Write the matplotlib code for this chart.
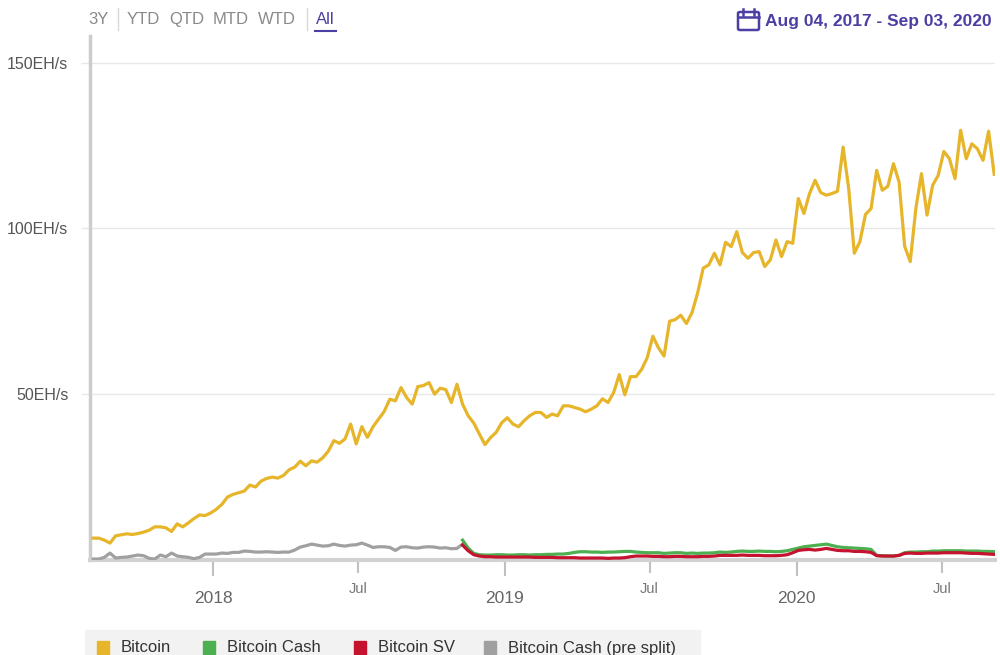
import matplotlib
matplotlib.use("Agg")
import pandas as pd
import matplotlib.pyplot as plt
import matplotlib.dates as mdates
from matplotlib.patches import Rectangle, FancyBboxPatch
from matplotlib.lines import Line2D

plt.rcParams['font.family'] = ['Liberation Sans', 'DejaVu Sans']

# Weekly hash rate readings (EH/s), starting Aug 04, 2017
start_date = "2017-08-04"

bitcoin = [
    6.6, 6.6, 6.0, 5.1, 7.3, 7.6, 7.9, 7.7, 8.0, 8.4,
    9.0, 10.0, 10.0, 9.7, 8.6, 10.9, 10.0, 11.2, 12.5, 13.6,
    13.4, 14.2, 15.3, 16.8, 19.0, 19.8, 20.3, 20.8, 22.6, 22.0,
    23.8, 24.6, 25.0, 24.7, 25.5, 27.2, 28.0, 29.8, 28.4, 29.9,
    29.5, 30.8, 32.8, 36.0, 35.2, 36.5, 41.0, 35.0, 40.2, 37.0,
    40.2, 42.5, 44.8, 48.5, 48.0, 52.0, 49.0, 47.0, 52.3, 52.6,
    53.5, 50.0, 51.8, 51.4, 47.5, 53.0, 47.0, 43.5, 41.3, 38.0,
    34.8, 36.9, 38.5, 41.4, 42.9, 41.0, 40.2, 42.0, 43.5, 44.5,
    44.5, 43.0, 44.0, 43.5, 46.5, 46.5, 46.0, 45.5, 44.7, 45.5,
    46.5, 48.6, 47.5, 50.5, 55.9, 49.8, 55.3, 55.3, 57.5, 61.0,
    67.5, 64.0, 61.5, 72.0, 72.5, 73.8, 71.3, 74.6, 80.5, 88.0,
    89.0, 92.5, 89.0, 95.8, 94.5, 99.0, 92.7, 91.0, 92.7, 93.0,
    88.5, 90.5, 96.5, 91.5, 96.0, 95.5, 109.0, 104.5, 110.5, 114.5,
    110.8, 110.0, 110.5, 111.2, 124.5, 112.0, 92.5, 96.0, 104.2, 106.0,
    117.5, 111.5, 112.7, 119.5, 114.0, 94.6, 90.0, 106.0, 116.5, 104.0,
    113.0, 116.0, 123.2, 121.0, 115.0, 129.6, 121.0, 125.5, 124.0, 120.5,
    129.3, 116.3,
]

# Bitcoin Cash before the Nov 2018 split (weeks 0-66)
bch_pre_split = [
    0.3, 0.3, 0.8, 2.1, 0.6, 0.8, 0.9, 1.2, 1.5, 1.3,
    0.5, 0.3, 1.5, 1.0, 2.1, 1.2, 1.0, 0.8, 0.4, 0.8,
    1.8, 1.8, 1.8, 2.1, 2.0, 2.3, 2.3, 2.7, 2.6, 2.4,
    2.4, 2.5, 2.4, 2.3, 2.4, 2.4, 3.0, 3.9, 4.3, 4.8,
    4.5, 4.2, 4.3, 4.8, 4.4, 4.2, 4.5, 4.6, 5.1, 4.5,
    3.8, 4.0, 4.0, 3.8, 2.9, 3.9, 4.0, 3.7, 3.6, 3.9,
    4.0, 3.9, 3.6, 3.7, 3.4, 3.5, 4.8,
]

# After the split (weeks 66-161)
bitcoin_cash = [
    6.0, 3.6, 2.0, 1.6, 1.5, 1.5, 1.6, 1.6, 1.5, 1.5,
    1.6, 1.6, 1.5, 1.6, 1.6, 1.7, 1.7, 1.8, 1.8, 2.0,
    2.3, 2.5, 2.5, 2.4, 2.4, 2.3, 2.4, 2.4, 2.5, 2.6,
    2.6, 2.4, 2.3, 2.2, 2.2, 2.2, 2.0, 2.1, 2.2, 2.2,
    2.0, 2.1, 2.0, 2.1, 2.1, 2.2, 2.4, 2.3, 2.4, 2.6,
    2.7, 2.6, 2.6, 2.7, 2.6, 2.6, 2.5, 2.6, 2.8, 3.2,
    3.6, 4.0, 4.2, 4.4, 4.6, 4.8, 4.4, 4.0, 3.8, 3.7,
    3.6, 3.5, 3.4, 3.2, 1.4, 1.3, 1.2, 1.2, 1.4, 2.2,
    2.4, 2.4, 2.5, 2.5, 2.7, 2.7, 2.8, 2.8, 2.8, 2.8,
    2.7, 2.7, 2.7, 2.6, 2.6, 2.5,
]

bitcoin_sv = [
    4.5, 2.8, 1.6, 1.2, 1.0, 1.0, 0.9, 0.9, 0.9, 0.9,
    0.9, 0.9, 0.9, 0.8, 0.8, 0.8, 0.8, 0.7, 0.7, 0.7,
    0.7, 0.6, 0.6, 0.6, 0.6, 0.6, 0.5, 0.6, 0.6, 0.7,
    1.0, 1.2, 1.2, 1.2, 1.1, 1.1, 1.0, 1.0, 1.1, 1.1,
    1.0, 1.0, 1.0, 1.1, 1.1, 1.2, 1.4, 1.4, 1.4, 1.4,
    1.5, 1.4, 1.4, 1.4, 1.3, 1.3, 1.3, 1.4, 1.6, 2.2,
    2.9, 3.1, 3.2, 3.0, 3.2, 3.5, 3.2, 2.9, 2.8, 2.8,
    2.6, 2.6, 2.5, 2.3, 1.3, 1.2, 1.2, 1.2, 1.4, 2.0,
    2.1, 2.0, 2.0, 2.1, 2.1, 2.1, 2.2, 2.2, 2.2, 2.2,
    2.1, 2.0, 2.0, 1.9, 1.8, 1.7,
]

y_ticks = [50, 100, 150]
ranges = ["3Y", "YTD", "QTD", "MTD", "WTD", "All"]
date_label = "Aug 04, 2017 - Sep 03, 2020"

c_btc = "#e6b52a"
c_bch = "#4caf50"
c_bsv = "#c4122f"
c_pre = "#a0a0a0"
purple = "#4b3fa3"

weeks = pd.date_range(start_date, periods=len(bitcoin), freq="7D")
split = len(bch_pre_split) - 1

fig = plt.figure(figsize=(10, 6.55), dpi=100)
ax = fig.add_axes([0.09, 0.145, 0.905, 0.8])

ax.plot(weeks, bitcoin, color=c_btc, lw=2.3, zorder=4)
ax.plot(weeks[:split + 1], bch_pre_split, color=c_pre, lw=2.3, zorder=3)
ax.plot(weeks[split:], bitcoin_cash, color=c_bch, lw=2.3, zorder=3)
ax.plot(weeks[split:], bitcoin_sv, color=c_bsv, lw=2.3, zorder=3)

ax.set_ylim(0, 158)
ax.set_xlim(pd.Timestamp("2017-07-31"), pd.Timestamp("2020-09-05"))
ax.set_yticks(y_ticks)
ax.set_yticklabels([f"{v}EH/s" for v in y_ticks])
ax.grid(axis="y", color="#e8e8e8", lw=1)
ax.set_axisbelow(True)

for s in ["top", "right"]:
    ax.spines[s].set_visible(False)
ax.spines["left"].set_color("#cccccc")
ax.spines["left"].set_linewidth(2.5)
ax.spines["bottom"].set_color("#d2d2d2")
ax.spines["bottom"].set_linewidth(3)

ax.tick_params(axis="y", length=6.5, width=1, color="#e8e8e8", pad=9,
               labelsize=11.5, labelcolor="#555555")

ax.xaxis.set_major_locator(mdates.YearLocator())
ax.xaxis.set_major_formatter(mdates.DateFormatter("%Y"))
ax.xaxis.set_minor_locator(mdates.MonthLocator(bymonth=7))
ax.xaxis.set_minor_formatter(mdates.DateFormatter("%b"))
ax.tick_params(axis="x", which="major", length=11.5, width=1.5, color="#c0c0c0",
               pad=11, labelsize=12.5, labelcolor="#666666")
ax.tick_params(axis="x", which="minor", length=9, width=1.5, color="#c0c0c0",
               pad=6.5, labelsize=10.5, labelcolor="#777777")

# range selector across the top
xs = [88, 127, 169, 213, 258, 316]
for lbl, x in zip(ranges, xs):
    fig.text(x / 1000, 1 - 24 / 655, lbl, fontsize=12,
             color=purple if lbl == "All" else "#8a8a8a", va="baseline", ha="left")
for x in [118, 307]:
    fig.add_artist(Line2D([x / 1000, x / 1000], [1 - 8 / 655, 1 - 30 / 655],
                          color="#d8d8d8", lw=1))
fig.add_artist(Line2D([315 / 1000, 336 / 1000], [1 - 31 / 655, 1 - 31 / 655],
                      color=purple, lw=1.5))

# date range with calendar icon
fig.text(992 / 1000, 1 - 26 / 655, date_label, fontsize=12.5, fontweight="bold",
         color=purple, ha="right", va="baseline")
fig.add_artist(FancyBboxPatch((738 / 1000, 1 - 30 / 655), 21 / 1000, 18 / 655,
                              boxstyle="round,pad=0,rounding_size=0.002",
                              fill=False, ec=purple, lw=1.8, transform=fig.transFigure))
fig.add_artist(Line2D([738 / 1000, 759 / 1000], [1 - 17 / 655, 1 - 17 / 655],
                      color=purple, lw=1.8))
for x in [743, 754]:
    fig.add_artist(Line2D([x / 1000, x / 1000], [1 - 9 / 655, 1 - 15 / 655],
                          color=purple, lw=1.8))

# legend strip at bottom
fig.add_artist(Rectangle((85 / 1000, 0), 615 / 1000, 25 / 655, color="#f2f2f2",
                         transform=fig.transFigure, zorder=0))
legend_items = [("Bitcoin", c_btc, 97), ("Bitcoin Cash", c_bch, 203),
                ("Bitcoin SV", c_bsv, 354), ("Bitcoin Cash (pre split)", c_pre, 484)]
for name, col, x in legend_items:
    fig.add_artist(Rectangle((x / 1000, 0), 12 / 1000, 14 / 655, color=col,
                             transform=fig.transFigure))
    fig.text((x + 24) / 1000, 1 - 648 / 655, name, fontsize=12, color="#333333",
             va="center", ha="left")

fig.savefig("out.png", dpi=100)
